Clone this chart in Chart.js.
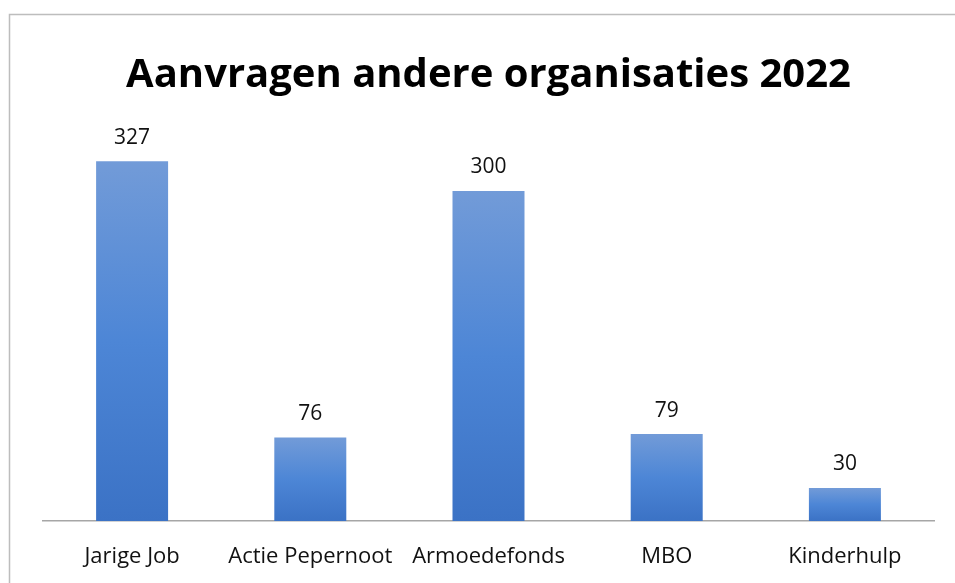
<!DOCTYPE html>
<html>
<head>
<meta charset="utf-8">
<script src="https://cdn.jsdelivr.net/npm/chart.js@4"></script>
<style>
  html, body { margin: 0; padding: 0; background: #fff; }
  #wrap { width: 955px; height: 583px; position: relative; }
</style>
</head>
<body>
<div id="wrap"><canvas id="aanvragenChart" width="955" height="583"></canvas></div>
<script>
const categories = ['Jarige Job', 'Actie Pepernoot', 'Armoedefonds', 'MBO', 'Kinderhulp'];
const aanvragen = [327, 76, 300, 79, 30];

const FONT = "'Open Sans', 'Noto Sans', sans-serif";

// frame line around the chart, like the original
const framePlugin = {
    id: 'frame',
    beforeDraw(chart) {
        const c = chart.ctx;
        c.save();
        c.strokeStyle = '#bdbdbd';
        c.lineWidth = 1.5;
        c.strokeRect(9.5, 14.5, 2000, 2000);
        c.restore();
    }
};

// value above every bar
const valueLabels = {
    id: 'valueLabels',
    afterDatasetsDraw(chart) {
        const c = chart.ctx;
        const meta = chart.getDatasetMeta(0);
        c.save();
        c.font = '21px ' + FONT;
        c.fillStyle = '#111';
        c.textAlign = 'center';
        c.textBaseline = 'bottom';
        meta.data.forEach((bar, i) => {
            c.fillText(aanvragen[i], bar.x, bar.y - 13);
        });
        c.restore();
    }
};

function barGradient(context) {
    const chart = context.chart;
    if (!chart.chartArea) return '#4a7fcf';
    const y = chart.scales.y;
    const top = y.getPixelForValue(aanvragen[context.dataIndex]);
    const base = y.getPixelForValue(0);
    const g = chart.ctx.createLinearGradient(0, top, 0, base);
    g.addColorStop(0, '#729bd8');
    g.addColorStop(0.5, '#4d86d6');
    g.addColorStop(1, '#3b72c5');
    return g;
}

const ctx = document.getElementById('aanvragenChart').getContext('2d');
new Chart(ctx, {
    type: 'bar',
    data: {
        labels: categories,
        datasets: [{
            label: 'Aanvragen',
            data: aanvragen,
            backgroundColor: barGradient,
            borderWidth: 0,
            categoryPercentage: 1,
            barPercentage: 0.404
        }]
    },
    options: {
        responsive: false,
        animation: false,
        devicePixelRatio: 1,
        layout: { padding: { left: 43, right: 21, top: 0, bottom: 0 } },
        plugins: {
            legend: { display: false },
            tooltip: { enabled: false },
            title: {
                display: true,
                text: 'Aanvragen andere organisaties 2022',
                color: '#000',
                font: { family: FONT, size: 40, weight: 'bold' },
                padding: { top: 52, bottom: 36 }
            }
        },
        scales: {
            x: {
                grid: { display: false, drawTicks: false },
                border: { display: true, color: '#a6a6a6', width: 1.5 },
                ticks: {
                    color: '#111',
                    font: { family: FONT, size: 22 },
                    padding: 23,
                    maxRotation: 0,
                    autoSkip: false
                },
                afterFit(scale) {
                    scale.height = 62;
                }
            },
            y: {
                display: false,
                min: 0,
                max: 350
            }
        }
    },
    plugins: [framePlugin, valueLabels]
});
</script>
</body>
</html>
